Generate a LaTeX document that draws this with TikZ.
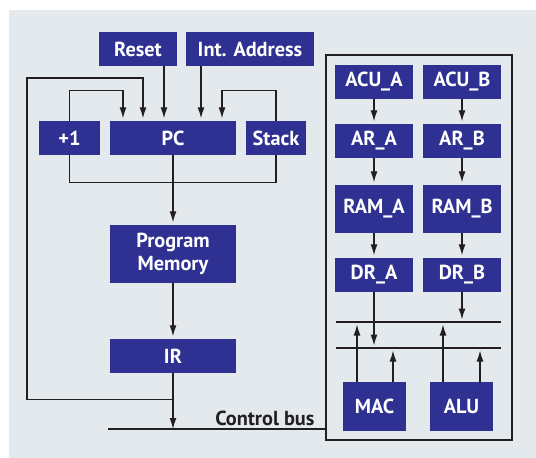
\documentclass[tikz,border=0pt]{standalone}
\usepackage{fontspec}
\setmainfont{PT Sans}
\usetikzlibrary{arrows.meta,positioning}
\definecolor{ink}{HTML}{231F20}
\definecolor{navy}{HTML}{2E3192}
\definecolor{panel}{HTML}{E4E9ED}
\tikzset{
  blk/.style={
    fill=navy, text=white, inner sep=0pt,
    minimum height=34pt, align=center,
    font=\bfseries\fontsize{20.3}{23}\selectfont
  },
  wire/.style={draw=ink, line width=1.3pt},
  arr/.style={wire, -{Latex[length=11pt,width=7pt]}, shorten >=2.5pt},
  bus/.style={draw=ink, line width=1.5pt}
}

\begin{document}
\begin{tikzpicture}[x=10pt,y=-10pt]
  \useasboundingbox (0,0) rectangle (53.6,45.8);
  \fill[panel] (0.9,1.0) rectangle (53.6,45.8);
  % program flow
  \node[blk, minimum width=78pt] (reset) at (13.8,4.9) {Reset};
  \node[blk, minimum width=128pt] (intaddr) at (25.0,4.9) {Int. Address};
  \node[blk, minimum width=61pt] (incr) at (6.95,13.8) {+1};
  \node[blk, minimum width=126pt] (pc) at (17.3,13.8) {PC};
  \node[blk, minimum width=60pt] (stack) at (27.6,13.8) {Stack};
  \node[blk, minimum width=126pt, minimum height=58pt] (pmem) at (17.3,25.4)
    {Program\\Memory};
  \node[blk, minimum width=126pt] (ir) at (17.3,35.6) {IR};
  \coordinate (pcin1) at ([xshift=-50pt]pc.north);
  \coordinate (pcin2) at ([xshift=-30pt]pc.north);
  \coordinate (pcin3) at ([xshift=-9pt]pc.north);
  \coordinate (pcin4) at ([xshift=28pt]pc.north);
  \coordinate (pcin5) at ([xshift=49pt]pc.north);
  \draw[arr] (incr.north) |- ([yshift=30pt]pcin1) -- (pcin1);
  \draw[arr] (stack.north) |- ([yshift=30pt]pcin5) -- (pcin5);
  \draw[arr] (reset.south -| pcin3) -- (pcin3);
  \draw[arr] (intaddr.south -| pcin4) -- (pcin4);
  \draw[wire] (incr.south) -- ++(0,2.7) -| (stack.south);
  \draw[arr] (pc) -- (pmem);
  \draw[arr] (pmem) -- (ir);
  % control bus
  \coordinate (cbus) at (10.8,42.9);
  \draw[arr, shorten >=0pt] (ir.south) -- (ir.south |- cbus);
  \draw[arr] ([yshift=-26pt]ir.south) -| (2.7,7.8) -| (pcin2);
  % data path
  \node[draw=ink, line width=1.8pt, inner sep=0pt, minimum width=186pt,
    minimum height=385pt] (dp) at (41.9,24.75) {};
  \draw[bus] (cbus) -- (cbus -| dp.west);
  \node[font=\bfseries\fontsize{20.3}{23}\selectfont, text=ink, anchor=base east]
    (cbuslbl) at (31.8,42.5) {Control bus};
  \node[blk, minimum width=78pt] (acua) at (37.4,8.15) {ACU\_A};
  \node[blk, minimum width=78pt] (acub) at (46.2,8.15) {ACU\_B};
  \node[blk, minimum width=78pt] (ara) at (37.4,14.1) {AR\_A};
  \node[blk, minimum width=78pt] (arb) at (46.2,14.1) {AR\_B};
  \node[blk, minimum width=78pt, minimum height=48pt] (rama) at (37.4,20.9) {RAM\_A};
  \node[blk, minimum width=78pt, minimum height=48pt] (ramb) at (46.2,20.9) {RAM\_B};
  \node[blk, minimum width=78pt] (dra) at (37.4,27.5) {DR\_A};
  \node[blk, minimum width=78pt] (drb) at (46.2,27.5) {DR\_B};
  \draw[arr] (acua) -- (ara);
  \draw[arr] (ara) -- (rama);
  \draw[arr] (rama) -- (dra);
  \draw[arr] (acub) -- (arb);
  \draw[arr] (arb) -- (ramb);
  \draw[arr] (ramb) -- (drb);
  \coordinate (busaw) at (33.6,32.2);
  \coordinate (busae) at (50.1,32.2);
  \coordinate (busbw) at (33.6,34.8);
  \coordinate (busbe) at (50.1,34.8);
  \draw[bus] (busaw) -- (busae);
  \draw[bus] (busbw) -- (busbe);
  \draw[arr] (dra.south) -- (dra.south |- busbw);
  \draw[arr] (drb.south) -- (drb.south |- busaw);
  \node[blk, minimum width=63pt, minimum height=49pt] (mac) at (37.45,40.65) {MAC};
  \node[blk, minimum width=63pt, minimum height=49pt] (alu) at (46.15,40.65) {ALU};
  \coordinate (macout1) at ([xshift=-17.5pt]mac.north);
  \coordinate (macout2) at ([xshift=18.5pt]mac.north);
  \coordinate (aluout1) at ([xshift=-18.5pt]alu.north);
  \coordinate (aluout2) at ([xshift=18.5pt]alu.north);
  \draw[arr] (macout1) -- (macout1 |- busaw);
  \draw[arr] (macout2) -- (macout2 |- busbw);
  \draw[arr] (aluout1) -- (aluout1 |- busaw);
  \draw[arr] (aluout2) -- (aluout2 |- busbw);
\end{tikzpicture}
\end{document}
